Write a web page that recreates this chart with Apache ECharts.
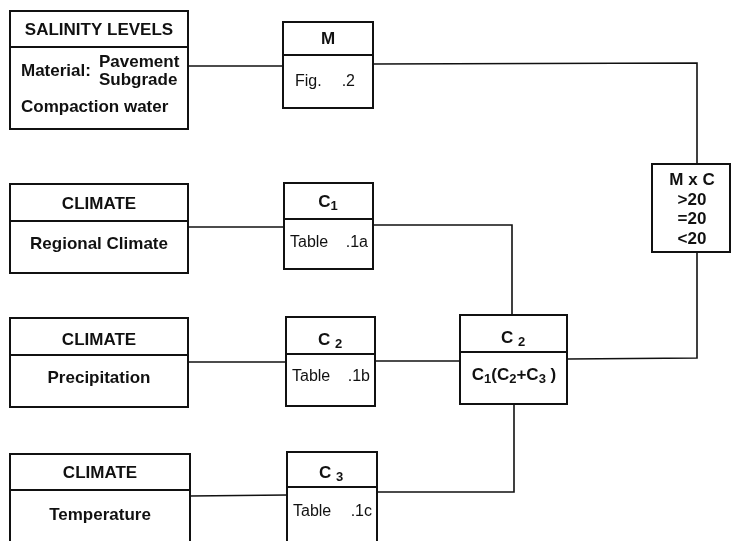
<!DOCTYPE html>
<html>
<head>
<meta charset="utf-8">
<script src="https://cdn.jsdelivr.net/npm/echarts@6/dist/echarts.min.js"></script>
<style>
  html, body { margin: 0; padding: 0; background: #fff; }
  #chart { width: 731px; height: 541px; }
</style>
</head>
<body>
<div id="chart"></div>
<script>
// diagram units == page pixels (x right, y down)
// boxes: [x0, y0, x1, y1, dividerY]  (dividerY null -> no header line)
const boxes = [
  [10, 11, 188, 129, 47],     // salinity levels
  [283, 22, 373, 108, 55],    // M
  [652, 164, 730, 252, null], // M x C
  [10, 184, 188, 273, 221],   // climate 1
  [284, 183, 373, 269, 219],  // C1
  [10, 318, 188, 407, 355],   // climate 2
  [286, 317, 375, 406, 354],  // C2
  [460, 315, 567, 404, 352],  // C2 total
  [10, 454, 190, 570, 490],   // climate 3
  [287, 452, 377, 570, 487]   // C3
]

// connectors: polylines
const links = [
  [[188, 66], [283, 66]],
  [[373, 64], [697, 63], [697, 164]],
  [[188, 227], [284, 227]],
  [[373, 225], [512, 225], [512, 315]],
  [[188, 362], [286, 362]],
  [[375, 361], [460, 361]],
  [[567, 359], [697, 358], [697, 252]],
  [[190, 496], [287, 495]],
  [[377, 492], [514, 492], [514, 404]]
]

// labels: [x, y, text, align, style]
const labels = [
  [99, 30, 'SALINITY LEVELS', 'center', 'b'],
  [21, 71, 'Material:', 'left', 'b'],
  [99, 62, 'Pavement', 'left', 'b'],
  [99, 80, 'Subgrade', 'left', 'b'],
  [21, 107, 'Compaction water', 'left', 'b'],
  [328, 39, 'M', 'center', 'b'],
  [295, 82, 'Fig.', 'left', 'r'],
  [355, 82, '.2', 'right', 'r'],
  [692, 180, 'M x C', 'center', 'b'],
  [692, 200, '>20', 'center', 'b'],
  [692, 219, '=20', 'center', 'b'],
  [692, 239, '<20', 'center', 'b'],
  [99, 204, 'CLIMATE', 'center', 'b'],
  [99, 244, 'Regional Climate', 'center', 'b'],
  [328, 202, '{b|C}{s|1}', 'center', 'b'],
  [290, 243, 'Table', 'left', 'r'],
  [368, 243, '.1a', 'right', 'r'],
  [99, 340, 'CLIMATE', 'center', 'b'],
  [99, 378, 'Precipitation', 'center', 'b'],
  [330, 340, '{b|C }{s|2}', 'center', 'b'],
  [292, 377, 'Table', 'left', 'r'],
  [370, 377, '.1b', 'right', 'r'],
  [513, 338, '{b|C }{s|2}', 'center', 'b'],
  [514, 375, '{b|C}{s|1}{b|(C}{s|2}{b|+C}{s|3}{b| )}', 'center', 'b'],
  [100, 473, 'CLIMATE', 'center', 'b'],
  [100, 515, 'Temperature', 'center', 'b'],
  [331, 473, '{b|C }{s|3}', 'center', 'b'],
  [293, 512, 'Table', 'left', 'r'],
  [372, 512, '.1c', 'right', 'r']
]

const ink = '#111'
const font = 'Liberation Sans'

const chart = echarts.init(document.getElementById('chart'))
chart.setOption({
  animation: false,
  grid: { left: 0, right: 0, top: 0, bottom: 0 },
  xAxis: { type: 'value', min: 0, max: 731, show: false },
  yAxis: { type: 'value', min: 0, max: 541, inverse: true, show: false },
  series: [
    {
      type: 'custom',
      data: boxes,
      clip: false,
      renderItem(params, api) {
        const p0 = api.coord([api.value(0), api.value(1)])
        const p1 = api.coord([api.value(2), api.value(3)])
        const children = [{
          type: 'rect',
          shape: { x: p0[0], y: p0[1], width: p1[0] - p0[0], height: p1[1] - p0[1] },
          style: { fill: 'none', stroke: ink, lineWidth: 2 }
        }]
        const d = boxes[params.dataIndex][4]
        if (d != null) {
          const pd = api.coord([0, d])
          children.push({
            type: 'line',
            shape: { x1: p0[0], y1: pd[1], x2: p1[0], y2: pd[1] },
            style: { stroke: ink, lineWidth: 2 }
          })
        }
        return { type: 'group', children }
      }
    },
    {
      type: 'custom',
      data: links.map((l, i) => [i]),
      clip: false,
      renderItem(params, api) {
        const pts = links[params.dataIndex].map(p => api.coord(p))
        return {
          type: 'polyline',
          shape: { points: pts },
          style: { fill: 'none', stroke: ink, lineWidth: 1.6 }
        }
      }
    },
    {
      type: 'custom',
      data: labels.map(l => [l[0], l[1]]),
      clip: false,
      renderItem(params, api) {
        const l = labels[params.dataIndex]
        const p = api.coord([l[0], l[1]])
        const bold = l[4] === 'b'
        return {
          type: 'text',
          x: p[0],
          y: p[1],
          style: {
            text: l[2],
            fill: ink,
            font: (bold ? 'bold 17px ' : '16px ') + font,
            align: l[3],
            verticalAlign: 'middle',
            rich: {
              b: { fontFamily: font, fontWeight: 'bold', fontSize: 17, fill: ink },
              s: { fontFamily: font, fontWeight: 'bold', fontSize: 13, fill: ink, padding: [9, 0, 0, 0] }
            }
          }
        }
      }
    }
  ]
})
</script>
</body>
</html>
